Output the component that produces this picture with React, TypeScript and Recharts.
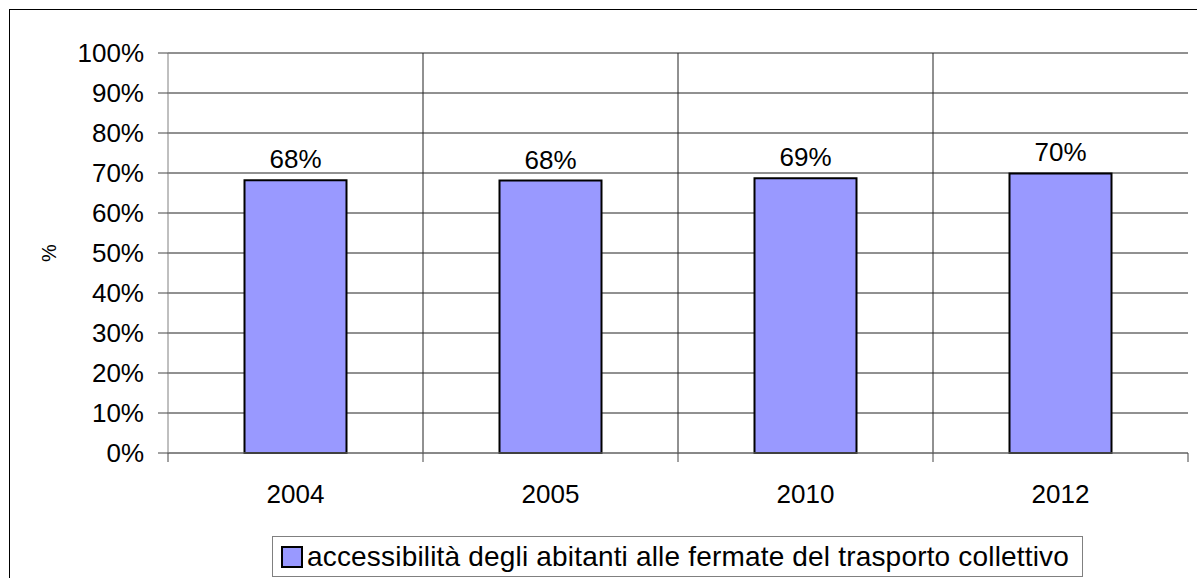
import { BarChart, Bar, XAxis, YAxis, CartesianGrid, Legend, LabelList } from "recharts";

const years = ["2004", "2005", "2010", "2012"];
const accessibility = [68.2, 68.1, 68.7, 69.9];
const yTicks = [0, 10, 20, 30, 40, 50, 60, 70, 80, 90, 100];
const seriesName = "accessibilità degli abitanti alle fermate del trasporto collettivo";

const data = years.map((year, i) => ({ year, value: accessibility[i] }));

const font = "'Liberation Sans', Arial, sans-serif";
const X_TICK_SIZE = 9;
const X_TICK_MARGIN = 23;

// vertical grid lines sit on the category boundaries, not the centres
function boundaryLines({ xAxis, offset }: any) {
  const scale = xAxis?.scale;
  if (typeof scale === "function" && typeof scale.bandwidth === "function") {
    return years.slice(1).map((y) => scale(y));
  }
  const left = offset?.left ?? xAxis?.x ?? 0;
  const width = offset?.width ?? xAxis?.width ?? 0;
  const step = width / years.length;
  return years.slice(1).map((_, i) => left + (i + 1) * step);
}

function YearTick(props: any) {
  const { x, y, payload, index } = props;
  const half = payload?.offset ?? 0;
  const y1 = y - X_TICK_MARGIN - X_TICK_SIZE;
  const y2 = y - X_TICK_MARGIN;
  return (
    <g>
      <line x1={x - half} x2={x - half} y1={y1} y2={y2} stroke="#444" />
      {index === years.length - 1 && (
        <line x1={x + half} x2={x + half} y1={y1} y2={y2} stroke="#444" />
      )}
      <text x={x} y={y} dy="0.71em" textAnchor="middle" fontSize={26} fontFamily={font} fill="#000">
        {payload.value}
      </text>
    </g>
  );
}

function LegendBox() {
  return (
    <div
      style={{
        boxSizing: "border-box",
        width: 811,
        height: 41,
        border: "1px solid #808080",
        background: "#fff",
        display: "flex",
        alignItems: "center",
        paddingLeft: 8,
        fontFamily: font,
        fontSize: 28,
        letterSpacing: 0.18,
        color: "#000",
        whiteSpace: "nowrap",
      }}
    >
      <span
        style={{
          display: "inline-block",
          width: 18,
          height: 18,
          background: "#9999FF",
          border: "2px solid #000",
          marginRight: 4,
        }}
      />
      {seriesName}
    </div>
  );
}

function YLabel(props: any) {
  const { x, y, height } = props.viewBox;
  const cx = x + 9;
  const cy = y + height / 2;
  return (
    <text
      x={cx}
      y={cy}
      transform={`rotate(-90, ${cx}, ${cy})`}
      textAnchor="middle"
      dominantBaseline="central"
      fontSize={20}
      fontFamily={font}
      fill="#000"
    >
      %
    </text>
  );
}

export default function App() {
  return (
    <div
      style={{
        position: "absolute",
        left: 0,
        top: 0,
        width: 1197,
        height: 578,
        overflow: "hidden",
        background: "#fff",
      }}
    >
      <div
        style={{
          position: "absolute",
          left: 9,
          top: 9,
          width: 1220,
          height: 600,
          border: "1px solid #000",
        }}
      />
      <div style={{ position: "absolute", left: 0, top: 0 }}>
        <BarChart
          width={1197}
          height={578}
          data={data}
          margin={{ top: 53, right: 9, left: 40, bottom: 55 }}
          barCategoryGap="30%"
        >
          <CartesianGrid stroke="#222" strokeWidth={1} verticalCoordinatesGenerator={boundaryLines} />
          <XAxis
            dataKey="year"
            axisLine={{ stroke: "#808080" }}
            tickLine={false}
            tickSize={X_TICK_SIZE}
            tickMargin={X_TICK_MARGIN}
            height={70}
            tick={<YearTick />}
            interval={0}
          />
          <YAxis
            domain={[0, 100]}
            ticks={yTicks}
            width={128}
            tickSize={10}
            tickMargin={14}
            tickFormatter={(v) => `${v}%`}
            tick={{ fill: "#000", fontSize: 26, fontFamily: font }}
            axisLine={{ stroke: "#808080" }}
            tickLine={{ stroke: "#444" }}
            label={{ content: YLabel }}
            interval={0}
          />
          <YAxis
            yAxisId="frame"
            orientation="right"
            width={0}
            tick={false}
            tickLine={false}
            axisLine={{ stroke: "#909090", strokeWidth: 2 }}
          />
          <Bar
            dataKey="value"
            name={seriesName}
            fill="#9999FF"
            stroke="#000"
            strokeWidth={2}
            isAnimationActive={false}
          >
            <LabelList
              dataKey="value"
              position="top"
              offset={12}
              formatter={(v: any) => `${Math.round(Number(v))}%`}
              style={{ fill: "#000", fontSize: 26, fontFamily: font }}
            />
          </Bar>
          <Legend
            layout="horizontal"
            verticalAlign="middle"
            align="center"
            content={() => <LegendBox />}
            wrapperStyle={{ left: 272, top: 536, width: 811, height: 41 }}
          />
        </BarChart>
      </div>
    </div>
  );
}
